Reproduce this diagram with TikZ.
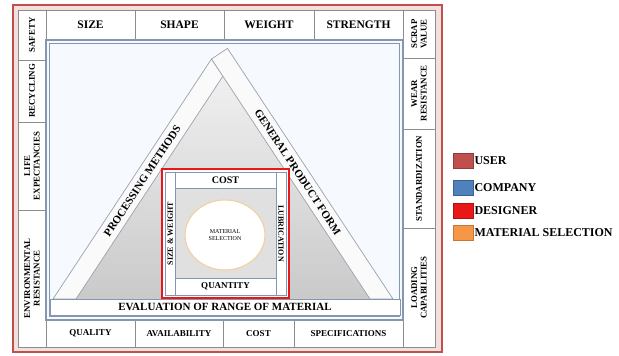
\documentclass[tikz,border=0pt]{standalone}
\usepackage{fontspec}
\setmainfont{Liberation Serif}
\usetikzlibrary{shapes.geometric}
\definecolor{user}{HTML}{C0504D}
\definecolor{company}{HTML}{4F81BD}
\definecolor{designer}{HTML}{E81818}
\definecolor{matsel}{HTML}{F79646}
\definecolor{frameblue}{HTML}{8496B0}
\definecolor{cellline}{HTML}{8C8C8C}
\definecolor{bandline}{HTML}{98A2AE}
\definecolor{bluefill}{HTML}{F6F9FD}
\definecolor{matline}{HTML}{F2D2A2}
\begin{document}
\begin{tikzpicture}[x=1pt,y=-1pt,
  cell/.style={draw=cellline, line width=0.6pt, fill=white, inner sep=0pt, align=center,
    font=\bfseries\fontsize{9}{9.5}\selectfont},
  topcell/.style={cell, font=\bfseries\fontsize{11.5}{12}\selectfont},
  sidecell/.style={cell, rotate=90, font=\bfseries\fontsize{8.8}{9.6}\selectfont},
  bandtext/.style={inner sep=0pt, font=\bfseries\fontsize{11}{12}\selectfont},
  innertext/.style={inner sep=0pt, align=center, font=\bfseries\fontsize{9.5}{10}\selectfont},
  legbox/.style={minimum width=20pt, minimum height=15pt, inner sep=0pt, line width=0.6pt},
  legtext/.style={anchor=west, inner sep=1pt, font=\bfseries\fontsize{12}{13}\selectfont}]
\useasboundingbox (0,0) rectangle (619,356);
% outer user frame
\fill[user!18, even odd rule] (13,5) rectangle (442,352) (18,10) rectangle (435,347);
\draw[user, line width=1.6pt] (13,5) rectangle (442,352);
\draw[user, line width=1pt] (18,10) rectangle (435,347);
% left column
\node[sidecell, minimum width=50pt, minimum height=28pt] (safety) at (32,35) {SAFETY};
\node[sidecell, minimum width=62pt, minimum height=28pt] (recyc) at (32,91) {RECYCLING};
\node[sidecell, minimum width=88pt, minimum height=28pt] (life) at (32,166) {LIFE\\EXPECTANCIES};
\node[sidecell, minimum width=137pt, minimum height=28pt] (envr) at (32,278.5) {ENVIRONMENTAL\\RESISTANCE};
% right column
\node[sidecell, minimum width=48pt, minimum height=32pt] (scrap) at (419,34) {SCRAP\\VALUE};
\node[sidecell, minimum width=71pt, minimum height=32pt] (wear) at (419,93.5) {WEAR\\RESISTANCE};
\node[sidecell, minimum width=99pt, minimum height=32pt] (stand) at (419,178.5) {STANDARDIZATION};
\node[sidecell, minimum width=119pt, minimum height=32pt] (load) at (419,287.5) {LOADING\\CAPABILITIES};
% top row
\node[topcell, minimum width=89pt, minimum height=30pt] (size) at (90.5,25) {SIZE};
\node[topcell, minimum width=89pt, minimum height=30pt] (shape) at (179.5,25) {SHAPE};
\node[topcell, minimum width=90pt, minimum height=30pt] (weight) at (269,25) {WEIGHT};
\node[topcell, minimum width=89pt, minimum height=30pt] (strength) at (358.5,25) {STRENGTH};
% bottom row
\node[cell, minimum width=89pt, minimum height=27pt] (quality) at (90.5,333.5) {QUALITY};
\node[cell, minimum width=88pt, minimum height=27pt] (avail) at (179,333.5) {AVAILABILITY};
\node[cell, minimum width=71pt, minimum height=27pt] (costb) at (258.5,333.5) {COST};
\node[cell, minimum width=109pt, minimum height=27pt] (spec) at (348.5,333.5) {SPECIFICATIONS};
% company frame
\draw[frameblue, line width=1.5pt, fill=bluefill] (46,40) rectangle (403,320);
\draw[frameblue, line width=0.6pt] (49.5,43.5) rectangle (399.5,316.5);
% triangle
\coordinate (A) at (53,299);
\coordinate (Ai) at (76,299);
\coordinate (B) at (393,299);
\coordinate (Bi) at (370,299);
\coordinate (Pi) at (223,76);
\coordinate (Q) at (211.5,59);
\coordinate (T) at (227.5,48.4);
\shade[top color=gray!12, bottom color=gray!42] (Ai) -- (Pi) -- (Bi) -- cycle;
\draw[bandline, line width=0.7pt, fill=gray!4] (A) -- (Q) -- (Pi) -- (Ai) -- cycle;
\draw[bandline, line width=0.7pt, fill=gray!4] (Bi) -- (Q) -- (T) -- (B) -- cycle;
\node[bandtext, rotate=56.6] (procm) at (142.4,181) {PROCESSING METHODS};
\node[bandtext, rotate=-56.6] (genpf) at (297.7,172) {GENERAL PRODUCT FORM};
% evaluation bar
\node[draw=frameblue, line width=0.8pt, fill=white, minimum width=350pt, minimum height=16pt, inner sep=0pt,
  font=\bfseries\fontsize{11}{12}\selectfont] (eval) at (225,307) {EVALUATION OF RANGE OF MATERIAL};
% designer box
\draw[designer, line width=2.5pt, fill=white] (162,169) rectangle (289,298);
\fill[gray!24] (175,188) rectangle (276,278);
\draw[frameblue, line width=0.6pt] (165,172) rectangle (286,295);
\draw[frameblue, line width=0.6pt] (175,172) -- (175,295) (276,172) -- (276,295);
\draw[frameblue, line width=0.6pt] (175,188) -- (276,188) (175,278) -- (276,278);
\node[innertext, font=\bfseries\fontsize{10}{10}\selectfont] (costi) at (225.5,180) {COST};
\node[innertext, font=\bfseries\fontsize{9}{9}\selectfont] (quant) at (225.5,286.5) {QUANTITY};
\node[innertext, rotate=90, font=\bfseries\fontsize{8}{8}\selectfont] (sizew) at (170.2,233.5) {SIZE \& WEIGHT};
\node[innertext, rotate=-90, font=\bfseries\fontsize{8}{8}\selectfont] (lubr) at (281,233.5) {LUBRICATION};
\node[ellipse, draw=matline, line width=1.2pt, fill=white, minimum width=80pt, minimum height=70pt, inner sep=0pt,
  align=center, font=\fontsize{6}{7}\selectfont] (mats) at (225,235) {MATERIAL\\SELECTION};
% legend
\node[legbox, fill=user, draw=user!75!black] (lu) at (463,160.5) {};
\node[legtext] (lut) at (lu.east) {USER};
\node[legbox, fill=company, draw=company!75!black] (lc) at (463,187.5) {};
\node[legtext] (lct) at (lc.east) {COMPANY};
\node[legbox, fill=designer, draw=designer!75!black] (ld) at (463,210.5) {};
\node[legtext] (ldt) at (ld.east) {DESIGNER};
\node[legbox, fill=matsel, draw=matsel!80!black] (lm) at (463,232.5) {};
\node[legtext] (lmt) at (lm.east) {MATERIAL SELECTION};
\end{tikzpicture}
\end{document}
